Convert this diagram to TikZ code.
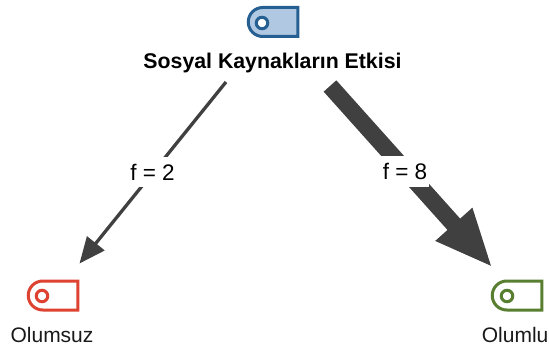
\documentclass[tikz,border=0pt]{standalone}
\usepackage{fontspec}
\setmainfont{Liberation Sans}
\usetikzlibrary{arrows.meta,shapes.misc}
\definecolor{edgegray}{HTML}{404040}
\tikzset{
  x=1pt,y=-1pt,
  tagbox/.style={rounded rectangle,rounded rectangle right arc=none,minimum width=49.5pt,minimum height=29pt,inner sep=0pt,line width=3pt},
  taghole/.style={circle,fill=white,minimum size=11.5pt,inner sep=0pt,line width=3pt},
  lbl/.style={font=\fontsize{21}{23}\selectfont,text=black!90,inner sep=0pt},
  edgelbl/.style={font=\fontsize{22.5}{25}\selectfont,fill=white,inner xsep=2pt,inner ysep=0pt,minimum height=30pt,text=black},
  conn/.style={draw=edgegray,line cap=butt},
}
\begin{document}
\begin{tikzpicture}
\useasboundingbox (0,0) rectangle (549,350);
\node[tagbox,draw={rgb,255:red,38;green,96;blue,146},fill={rgb,255:red,176;green,200;blue,226}] (src) at (273,22) {};
\node[taghole,draw={rgb,255:red,38;green,96;blue,146}] (srch) at (262,23) {};
\node[tagbox,draw={rgb,255:red,222;green,66;blue,48},fill=white] (neg) at (53,295.5) {};
\node[taghole,draw={rgb,255:red,222;green,66;blue,48}] (negh) at (42,296) {};
\node[tagbox,draw={rgb,255:red,88;green,126;blue,48},fill=white] (pos) at (517,295.5) {};
\node[taghole,draw={rgb,255:red,88;green,126;blue,48}] (posh) at (507,296) {};
\node[font=\bfseries\fontsize{21.3}{23}\selectfont,inner sep=0pt,text=black] (title) at (272.5,62.5) {Sosyal Kaynakların Etkisi};
\node[lbl,anchor=center] (negl) at (52,335) {Olumsuz};
\node[lbl,anchor=east] (posl) at (548.6,335) {Olumlu};
\coordinate (a1) at (226,82);
\coordinate (a2) at (79.5,263.5);
\coordinate (b1) at (330,86);
\coordinate (b2) at (492.5,267.5);
\draw[conn,line width=3.3pt,-{Triangle[length=26pt,width=22pt,fill=edgegray]}] (a1) -- (a2);
\draw[conn,line width=17pt,-{Triangle[length=58pt,width=45pt,fill=edgegray]}] (b1) -- (b2);
\node[edgelbl] (fa) at (152.5,172) {f = 2};
\node[edgelbl] (fb) at (405,171.5) {f = 8};
\end{tikzpicture}
\end{document}
